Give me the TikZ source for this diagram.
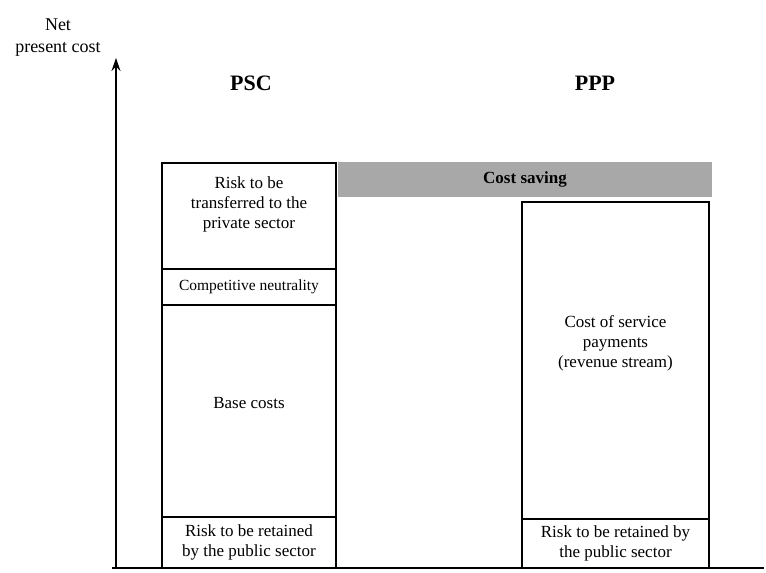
\documentclass[tikz,border=0pt]{standalone}
\usepackage{fontspec}
\setmainfont{Liberation Serif}
\usetikzlibrary{arrows, arrows.meta, shapes}
\definecolor{savinggray}{RGB}{168,168,168}
\tikzstyle{part} = [rectangle, draw=black, line width=1.1pt, inner sep=0pt, outer sep=0pt, align=center, font=\fontsize{17}{20}\selectfont]
\tikzstyle{boxtext} = [align=center, inner sep=0pt, font=\fontsize{17}{20}\selectfont]
\tikzstyle{saving} = [rectangle, fill=savinggray, inner sep=0pt, minimum width=374pt, minimum height=35pt, font=\fontsize{17}{20}\selectfont\bfseries]
\tikzstyle{heading} = [inner sep=0pt, font=\fontsize{22}{26}\selectfont\bfseries]
\tikzstyle{arrow} = [line width=1.1pt,->,>={Stealth[length=13pt, width=9pt]}]

\begin{document}
\begin{tikzpicture}[x=1pt, y=1pt, yscale=-1]
\useasboundingbox (0,0) rectangle (766,573);

% axes
\coordinate (origin) at (116, 568);
\coordinate (ytop) at (116, 58);
\coordinate (xleft) at (112, 568);
\coordinate (xright) at (764, 568);
\draw [arrow] (origin) -- (ytop);
\draw [line width=1.1pt] (xleft) -- (xright);
\node at (58, 38) (axistitle) [boxtext, font=\fontsize{18}{22}\selectfont] {Net\\present cost};

% headings
\node at (251, 83) (psc) [heading] {PSC};
\node at (595, 83) (ppp) [heading] {PPP};

% cost saving bar
\node at (525, 179.5) (saving) [saving] {Cost saving};

% PSC column
\node at (249, 216) (pscRisk) [part, minimum width=174pt, minimum height=106pt] {};
\node at (249, 287) (pscNeutral) [part, minimum width=174pt, minimum height=36pt, font=\fontsize{15.5}{20}\selectfont] {Competitive neutrality};
\node at (249, 411) (pscBase) [part, minimum width=174pt, minimum height=212pt] {};
\node at (249, 542.5) (pscRetained) [part, minimum width=174pt, minimum height=51pt] {Risk to be retained\\by the public sector};
\node at (249, 204) (pscRiskText) [boxtext] {Risk to be\\transferred to the\\private sector};
\node at (249, 403) (pscBaseText) [boxtext] {Base costs};

% PPP column
\node at (615.5, 360.5) (pppPayments) [part, minimum width=187pt, minimum height=317pt] {};
\node at (615.5, 543.5) (pppRetained) [part, minimum width=187pt, minimum height=49pt] {Risk to be retained by\\the public sector};
\node at (615.5, 343) (pppPaymentsText) [boxtext] {Cost of service\\payments\\(revenue stream)};

\end{tikzpicture}
\end{document}
